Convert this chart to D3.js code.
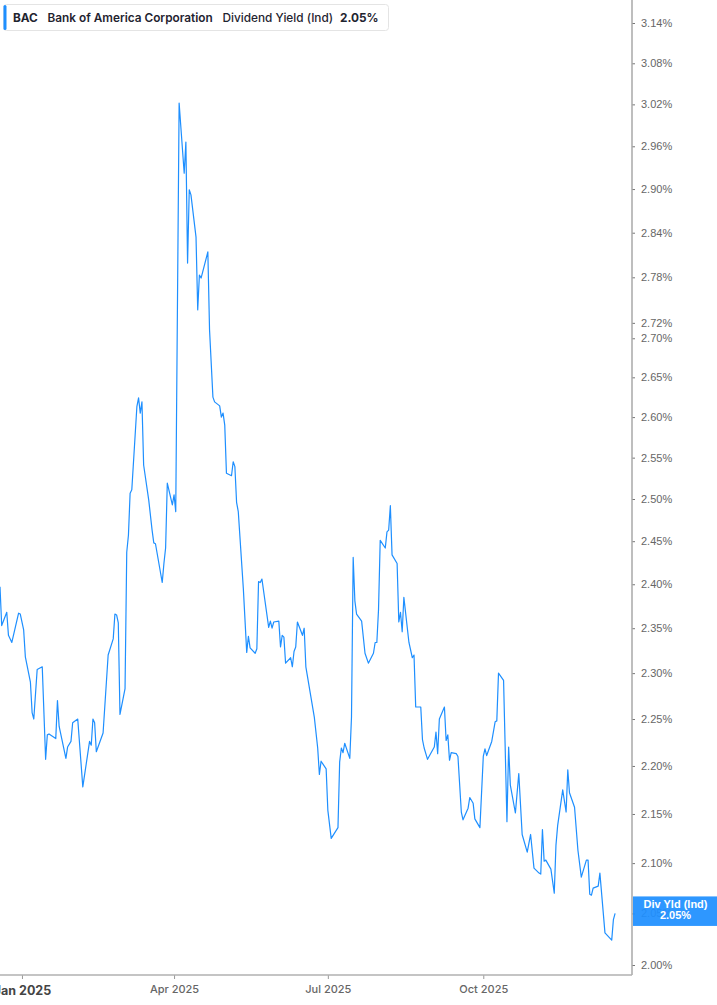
<!DOCTYPE html>
<html>
<head>
<meta charset="utf-8">
<script src="https://cdn.jsdelivr.net/npm/d3@7"></script>
<style>
  html, body { margin: 0; padding: 0; background: #fff; }
  svg { display: block; }
</style>
</head>
<body>
<div id="chart"></div>
<script>
// BAC dividend yield (indicated), daily-ish points
const dates = [
  "2024-12-19","2024-12-20","2024-12-23","2024-12-24","2024-12-26","2024-12-30","2024-12-31",
  "2025-01-02","2025-01-03","2025-01-06","2025-01-07","2025-01-08","2025-01-10","2025-01-13",
  "2025-01-15","2025-01-16","2025-01-17","2025-01-21","2025-01-22","2025-01-23","2025-01-27",
  "2025-01-28","2025-01-30","2025-01-31","2025-02-03","2025-02-06","2025-02-10","2025-02-11",
  "2025-02-12","2025-02-13","2025-02-14","2025-02-18","2025-02-21","2025-02-24","2025-02-25",
  "2025-02-26","2025-02-27","2025-02-28","2025-03-03","2025-03-04","2025-03-05","2025-03-06",
  "2025-03-07","2025-03-10","2025-03-11","2025-03-12","2025-03-13","2025-03-14","2025-03-17",
  "2025-03-19","2025-03-20","2025-03-21","2025-03-25","2025-03-26","2025-03-27","2025-03-28",
  "2025-03-31","2025-04-01","2025-04-02","2025-04-04","2025-04-07","2025-04-08","2025-04-09",
  "2025-04-10","2025-04-11","2025-04-14","2025-04-15","2025-04-16","2025-04-17","2025-04-21",
  "2025-04-22","2025-04-24","2025-04-25","2025-04-28","2025-04-29","2025-04-30","2025-05-01",
  "2025-05-02","2025-05-05","2025-05-06","2025-05-07","2025-05-08","2025-05-09","2025-05-12",
  "2025-05-14","2025-05-15","2025-05-16","2025-05-19","2025-05-20","2025-05-21","2025-05-22",
  "2025-05-23","2025-05-27","2025-05-28","2025-05-29","2025-05-30","2025-06-02","2025-06-03",
  "2025-06-04","2025-06-05","2025-06-06","2025-06-09","2025-06-10","2025-06-11","2025-06-12",
  "2025-06-13","2025-06-16","2025-06-17","2025-06-18","2025-06-23","2025-06-25","2025-06-26",
  "2025-06-27","2025-06-30","2025-07-01","2025-07-03","2025-07-07","2025-07-08","2025-07-09",
  "2025-07-10","2025-07-11","2025-07-14","2025-07-15","2025-07-16","2025-07-17","2025-07-18",
  "2025-07-21","2025-07-23","2025-07-25","2025-07-28","2025-07-29","2025-07-30","2025-07-31",
  "2025-08-01","2025-08-04","2025-08-05","2025-08-06","2025-08-07","2025-08-08","2025-08-11",
  "2025-08-12","2025-08-13","2025-08-14","2025-08-15","2025-08-18","2025-08-20","2025-08-21",
  "2025-08-22","2025-08-25","2025-08-26","2025-08-27","2025-08-29","2025-09-02","2025-09-03",
  "2025-09-04","2025-09-05","2025-09-08","2025-09-09","2025-09-10","2025-09-11","2025-09-12",
  "2025-09-15","2025-09-16","2025-09-18","2025-09-19","2025-09-22","2025-09-23","2025-09-25",
  "2025-09-26","2025-09-29","2025-10-01","2025-10-02","2025-10-03","2025-10-06","2025-10-08",
  "2025-10-09","2025-10-10","2025-10-13","2025-10-15","2025-10-16","2025-10-17","2025-10-20",
  "2025-10-22","2025-10-24","2025-10-27","2025-10-29","2025-10-31","2025-11-03","2025-11-04",
  "2025-11-05","2025-11-06","2025-11-07","2025-11-10","2025-11-12","2025-11-13","2025-11-14",
  "2025-11-17","2025-11-19","2025-11-20","2025-11-21","2025-11-24","2025-11-26","2025-11-28",
  "2025-12-01","2025-12-02","2025-12-03","2025-12-04","2025-12-05","2025-12-08","2025-12-09",
  "2025-12-12","2025-12-16","2025-12-17","2025-12-18"
];

const yields = [
  2.397,2.353,2.368,2.342,2.334,2.367,2.366,
  2.348,2.318,2.290,2.257,2.250,2.304,2.307,
  2.207,2.233,2.234,2.229,2.270,2.242,2.208,
  2.220,2.226,2.246,2.250,2.178,2.226,2.222,
  2.250,2.246,2.215,2.235,2.320,2.338,2.366,
  2.365,2.356,2.255,2.283,2.437,2.457,2.507,
  2.511,2.613,2.624,2.605,2.619,2.541,2.499,
  2.463,2.448,2.447,2.402,2.424,2.442,2.519,
  2.493,2.505,2.485,3.022,2.922,2.966,2.799,
  2.899,2.892,2.834,2.737,2.783,2.779,2.814,
  2.711,2.625,2.619,2.614,2.600,2.605,2.590,
  2.531,2.528,2.545,2.539,2.496,2.485,2.395,
  2.323,2.341,2.328,2.322,2.327,2.403,2.402,
  2.406,2.351,2.358,2.350,2.357,2.358,2.329,
  2.342,2.340,2.311,2.317,2.307,2.324,2.329,
  2.357,2.342,2.350,2.307,2.252,2.219,2.191,
  2.205,2.197,2.154,2.125,2.136,2.204,2.219,
  2.214,2.224,2.208,2.252,2.431,2.381,2.366,
  2.358,2.322,2.311,2.322,2.334,2.334,2.371,
  2.451,2.442,2.461,2.463,2.492,2.434,2.424,
  2.357,2.368,2.346,2.385,2.334,2.317,2.320,
  2.263,2.263,2.228,2.219,2.207,2.220,2.236,
  2.213,2.250,2.263,2.227,2.233,2.206,2.214,
  2.213,2.210,2.152,2.144,2.156,2.167,2.161,
  2.145,2.136,2.210,2.218,2.211,2.226,2.247,
  2.248,2.300,2.292,2.142,2.220,2.180,2.151,
  2.192,2.129,2.111,2.129,2.095,2.090,2.089,
  2.134,2.102,2.103,2.094,2.070,2.118,2.138,
  2.175,2.152,2.196,2.172,2.157,2.113,2.086,
  2.103,2.103,2.069,2.068,2.075,2.077,2.090,
  2.031,2.024,2.044,2.050
];

const yTicks = [2.00, 2.05, 2.10, 2.15, 2.20, 2.25, 2.30, 2.35, 2.40, 2.45, 2.50,
  2.55, 2.60, 2.65, 2.70, 2.72, 2.78, 2.84, 2.90, 2.96, 3.02, 3.08, 3.14];
const xTicks = ["2025-01-01", "2025-04-01", "2025-07-01", "2025-10-01"];
const xDomain = ["2024-12-19", "2025-12-28"];

const ticker = "BAC";
const company = "Bank of America Corporation";
const metric = "Dividend Yield (Ind)";
const lastLabel = "Div Yld (Ind)";

const width = 717, height = 1005;
const plotRight = 632, plotBottom = 975;
const blue = "#1e8fff";

const parse = d3.utcParse("%Y-%m-%d");
const data = dates.map((d, i) => ({ date: parse(d), v: yields[i] }));
const last = data[data.length - 1];

const svg = d3.select("#chart")
  .append("svg")
  .attr("width", width)
  .attr("height", height)
  .attr("viewBox", [0, 0, width, height]);

const x = d3.scaleUtc()
  .domain(xDomain.map(parse))
  .range([0, plotRight]);

// log scale; the tick spacing in the picture shrinks as the value grows
const y = d3.scaleLog()
  .domain([2.00, 3.14])
  .range([965, 23]);

svg.append("clipPath").attr("id", "plot")
  .append("rect").attr("x", 0).attr("y", 0)
  .attr("width", plotRight).attr("height", plotBottom);

svg.append("path")
  .datum(data)
  .attr("clip-path", "url(#plot)")
  .attr("fill", "none")
  .attr("stroke", blue)
  .attr("stroke-width", 1.2)
  .attr("stroke-linejoin", "round")
  .attr("d", d3.line().x(d => x(d.date)).y(d => y(d.v)));

// y axis on the right
const yAxis = svg.append("g")
  .attr("transform", `translate(${plotRight},0)`)
  .call(d3.axisRight(y)
    .tickValues(yTicks)
    .tickSize(3)
    .tickPadding(6)
    .tickFormat(d => d.toFixed(2) + "%"));
yAxis.select(".domain").remove();
yAxis.selectAll(".tick line").attr("stroke", "#777");
yAxis.selectAll(".tick text")
  .attr("fill", "#666")
  .attr("font-family", "Liberation Sans, Arial, sans-serif")
  .attr("font-size", 11);

svg.append("line")
  .attr("x1", plotRight).attr("x2", plotRight)
  .attr("y1", 0).attr("y2", plotBottom)
  .attr("stroke", "#a8a8a8").attr("stroke-width", 1.5);

// x axis
const xAxis = svg.append("g")
  .attr("transform", `translate(0,${plotBottom})`)
  .call(d3.axisBottom(x)
    .tickValues(xTicks.map(parse))
    .tickSize(4)
    .tickPadding(6)
    .tickFormat(d3.utcFormat("%b %Y")));
xAxis.select(".domain").remove();
xAxis.selectAll(".tick line").attr("stroke", "#999");
xAxis.selectAll(".tick text")
  .attr("fill", "#666")
  .attr("font-family", "Inter, sans-serif")
  .attr("font-weight", 500)
  .attr("font-size", 11);
// year start gets the bold label
xAxis.selectAll(".tick text")
  .filter(d => d.getUTCMonth() === 0)
  .attr("fill", "#444")
  .attr("font-weight", 700)
  .attr("font-size", 12.5)
  .attr("dy", "0.78em");

svg.append("line")
  .attr("x1", 0).attr("x2", plotRight)
  .attr("y1", plotBottom).attr("y2", plotBottom)
  .attr("stroke", "#b0b0b0").attr("stroke-width", 1.5);

// last value tag, a little see-through like the original so the tick behind shows faintly
const tag = svg.append("g").attr("transform", `translate(${plotRight},${y(last.v)})`);
tag.append("rect")
  .attr("x", 1).attr("y", -17)
  .attr("width", width - plotRight - 1).attr("height", 29.5)
  .attr("fill", blue)
  .attr("fill-opacity", 0.93);
tag.append("text")
  .attr("x", (width - plotRight) / 2 + 1).attr("y", -5)
  .attr("text-anchor", "middle")
  .attr("fill", "#fff")
  .attr("font-family", "Liberation Sans, Arial, sans-serif")
  .attr("font-weight", 700)
  .attr("font-size", 11)
  .text(lastLabel);
tag.append("text")
  .attr("x", (width - plotRight) / 2 + 1).attr("y", 6)
  .attr("text-anchor", "middle")
  .attr("fill", "#fff")
  .attr("font-family", "Liberation Sans, Arial, sans-serif")
  .attr("font-weight", 700)
  .attr("font-size", 11)
  .text(last.v.toFixed(2) + "%");

// legend box
const legend = svg.append("g");
legend.append("rect")
  .attr("x", 3.5).attr("y", 4.5)
  .attr("width", 385).attr("height", 26)
  .attr("rx", 3)
  .attr("fill", "#fff")
  .attr("stroke", "#e4e4e4");
legend.append("rect")
  .attr("x", 3.5).attr("y", 5)
  .attr("width", 3).attr("height", 25)
  .attr("rx", 1.5)
  .attr("fill", blue);

const legendText = legend.append("text")
  .attr("y", 21.5)
  .attr("font-family", "Inter, sans-serif")
  .attr("font-size", 11.8)
  .attr("fill", "#1f2430");
legendText.append("tspan").attr("x", 13).attr("font-weight", 700).text(ticker);
legendText.append("tspan").attr("x", 47.5).attr("font-weight", 600).text(company);
legendText.append("tspan").attr("x", 222.5).attr("font-weight", 500).text(metric);
legendText.append("tspan").attr("x", 340).attr("font-weight", 700).text(last.v.toFixed(2) + "%");
</script>
</body>
</html>
